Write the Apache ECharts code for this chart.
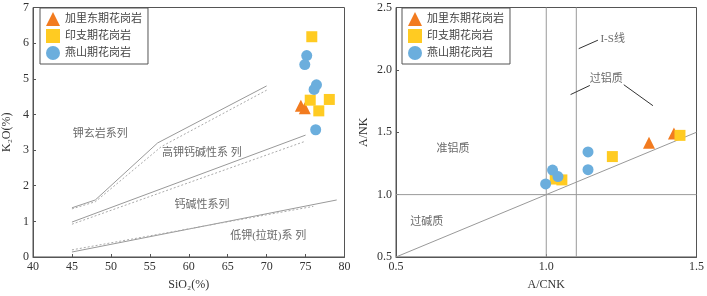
<!DOCTYPE html>
<html><head><meta charset="utf-8">
<script src="https://cdn.jsdelivr.net/npm/echarts@6/dist/echarts.min.js"></script>
<style>html,body{margin:0;padding:0;background:#fff}#c{width:707px;height:296px}</style>
</head><body><div id="c"></div>
<script>
// ---- Series names
const seriesNames = ['加里东期花岗岩', '印支期花岗岩', '燕山期花岗岩'];

// ---- Left diagram: SiO2 vs K2O
const caledonianSiO2 = [74.4, 74.9];
const caledonianK2O  = [4.24, 4.17];
const indosinianSiO2 = [75.8, 75.6, 78.05, 76.7];
const indosinianK2O  = [6.18, 4.40, 4.42, 4.10];
const yanshanianSiO2 = [75.15, 74.9, 76.4, 76.1, 76.3];
const yanshanianK2O  = [5.65, 5.40, 4.83, 4.70, 3.57];

// boundary lines (solid & dotted versions)
const shoSolidX = [45, 48, 56, 70];     const shoSolidY = [1.38, 1.60, 3.20, 4.80];
const shoDotX   = [45, 48, 56.5, 70];   const shoDotY   = [1.35, 1.55, 3.10, 4.68];
const hkSolidX  = [45, 75];             const hkSolidY  = [0.98, 3.42];
const hkDotX    = [45, 75];             const hkDotY    = [0.92, 3.25];
const lkSolidX  = [45, 79];             const lkSolidY  = [0.14, 1.60];
const lkDotX    = [45, 76];             const lkDotY    = [0.20, 1.42];

const leftLabelText = ['钾玄岩系列', '高钾钙碱性系 列', '钙碱性系列', '低钾(拉斑)系 列'];
const leftLabelX = [48.65, 61.7, 61.7, 70.2];
const leftLabelY = [3.45, 2.92, 1.46, 0.59];

const leftXTicks = [40, 45, 50, 55, 60, 65, 70, 75, 80];
const leftYTicks = [0, 1, 2, 3, 4, 5, 6, 7];

// ---- Right diagram: A/CNK vs A/NK
const caledonianACNK = [1.342, 1.425];
const caledonianANK  = [1.415, 1.49];
const indosinianACNK = [1.22, 1.445, 1.03, 1.052];
const indosinianANK  = [1.305, 1.475, 1.125, 1.118];
const yanshanianACNK = [1.139, 1.139, 1.021, 1.039, 0.998];
const yanshanianANK  = [1.342, 1.200, 1.197, 1.145, 1.086];

const rightVLineX = [1.0, 1.1];
const rightHLineY = [1.0];
const diagX = [0.5, 1.5]; const diagY = [0.5, 1.5];

const rightLabelText = ['I-S线', '过铝质', '准铝质', '过碱质'];
const rightLabelX = [1.221, 1.200, 0.690, 0.602];
const rightLabelY = [2.244, 1.928, 1.362, 0.776];
const leaderX = [[1.108, 1.172], [1.081, 1.145], [1.258, 1.355]];
const leaderY = [[2.170, 2.238], [1.802, 1.875], [1.881, 1.713]];

const rightXTicks = [0.5, 1.0, 1.5];
const rightYTicks = [0.5, 1.0, 1.5, 2.0, 2.5];

// ---- helpers
const zip = (xs, ys) => xs.map((x, i) => [x, ys[i]]);
const serif = 'Liberation Serif, Noto Sans CJK SC, serif';
const colors = ['#F27B1F', '#FFCB22', '#6BAEDD'];
const symbols = ['triangle', 'rect', 'circle'];
const sizes = [12, 11, 11];

function pts(name, idx, xs, ys, grid) {
  return { type: 'scatter', name: name, xAxisIndex: grid, yAxisIndex: grid,
    data: zip(xs, ys), symbol: symbols[idx], symbolSize: sizes[idx],
    itemStyle: { color: colors[idx], opacity: 1 }, z: 10, silent: true };
}
function line(xs, ys, grid, dotted) {
  return { type: 'line', xAxisIndex: grid, yAxisIndex: grid, data: zip(xs, ys),
    symbol: 'none', silent: true, z: 3, animation: false,
    lineStyle: { color: dotted ? '#aaa' : '#999', width: 1, type: dotted ? [2, 2] : 'solid' } };
}
function texts(arr, xs, ys, grid) {
  return { type: 'scatter', xAxisIndex: grid, yAxisIndex: grid, symbolSize: 1,
    itemStyle: { color: 'rgba(0,0,0,0)' }, silent: true, z: 5,
    data: xs.map((x, i) => ({ value: [x, ys[i]], name: arr[i] })),
    label: { show: true, position: 'inside', formatter: p => p.name,
      color: '#444', fontSize: 11, fontFamily: serif } };
}

const series = [];
// left lines
series.push(line(shoSolidX, shoSolidY, 0, false), line(shoDotX, shoDotY, 0, true));
series.push(line(hkSolidX, hkSolidY, 0, false), line(hkDotX, hkDotY, 0, true));
series.push(line(lkSolidX, lkSolidY, 0, false), line(lkDotX, lkDotY, 0, true));
series.push(texts(leftLabelText, leftLabelX, leftLabelY, 0));
// right lines
rightVLineX.forEach(x => series.push(line([x, x], [0.5, 2.5], 1, false)));
rightHLineY.forEach(y => series.push(line([0.5, 1.5], [y, y], 1, false)));
series.push(line(diagX, diagY, 1, false));
leaderX.forEach((xs, i) => { const s = line(xs, leaderY[i], 1, false); s.lineStyle.color = '#333'; series.push(s); });
series.push(texts(rightLabelText, rightLabelX, rightLabelY, 1));
// points
series.push(pts(seriesNames[0], 0, caledonianSiO2, caledonianK2O, 0));
series.push(pts(seriesNames[1], 1, indosinianSiO2, indosinianK2O, 0));
series.push(pts(seriesNames[2], 2, yanshanianSiO2, yanshanianK2O, 0));
series.push(pts(seriesNames[0], 0, caledonianACNK, caledonianANK, 1));
series.push(pts(seriesNames[1], 1, indosinianACNK, indosinianANK, 1));
series.push(pts(seriesNames[2], 2, yanshanianACNK, yanshanianANK, 1));

function axisCommon() {
  return {
    axisLine: { show: true, onZero: false, lineStyle: { color: '#555', width: 1 } },
    axisTick: { show: true, inside: true, length: 3, lineStyle: { color: '#555' } },
    splitLine: { show: false },
    axisLabel: { color: '#333', fontSize: 12, fontFamily: serif, margin: 4 },
    nameTextStyle: { color: '#333', fontSize: 12, fontFamily: serif },
    nameLocation: 'middle'
  };
}
function legend(left) {
  return {
    left: left, top: 8, orient: 'vertical', backgroundColor: '#fff',
    borderColor: '#555', borderWidth: 1, padding: [4, 6, 4, 6], itemGap: 3,
    itemWidth: 14, itemHeight: 14, selectedMode: false,
    textStyle: { fontSize: 11, color: '#444', fontFamily: serif },
    data: seriesNames.map((n, i) => ({ name: n, icon: symbols[i] === 'rect' ? 'rect' : symbols[i] }))
  };
}

const option = {
  animation: false,
  grid: [
    { left: 32.5, top: 7.5, width: 312, height: 253, show: true, borderColor: '#555', borderWidth: 1 },
    { left: 396, top: 7.5, width: 301, height: 253.5, show: true, borderColor: '#555', borderWidth: 1 }
  ],
  legend: [legend(40), legend(402)],
  xAxis: [
    Object.assign(axisCommon(), { gridIndex: 0, type: 'value', min: leftXTicks[0], max: leftXTicks[leftXTicks.length - 1], interval: 5,
      name: 'SiO₂(%)', nameGap: 22 }),
    Object.assign(axisCommon(), { gridIndex: 1, type: 'value', min: rightXTicks[0], max: rightXTicks[rightXTicks.length - 1], interval: 0.5,
      name: 'A/CNK', nameGap: 22, axisLabel: Object.assign(axisCommon().axisLabel, { formatter: v => v.toFixed(1) }) })
  ],
  yAxis: [
    Object.assign(axisCommon(), { gridIndex: 0, type: 'value', min: leftYTicks[0], max: leftYTicks[leftYTicks.length - 1], interval: 1,
      name: 'K₂O(%)', nameGap: 20 }),
    Object.assign(axisCommon(), { gridIndex: 1, type: 'value', min: rightYTicks[0], max: rightYTicks[rightYTicks.length - 1], interval: 0.5,
      name: 'A/NK', nameGap: 26, axisLabel: Object.assign(axisCommon().axisLabel, { formatter: v => v.toFixed(1) }) })
  ],
  series: series
};
const chart = echarts.init(document.getElementById('c'), null, { renderer: 'canvas' });
chart.setOption(option);
</script></body></html>
